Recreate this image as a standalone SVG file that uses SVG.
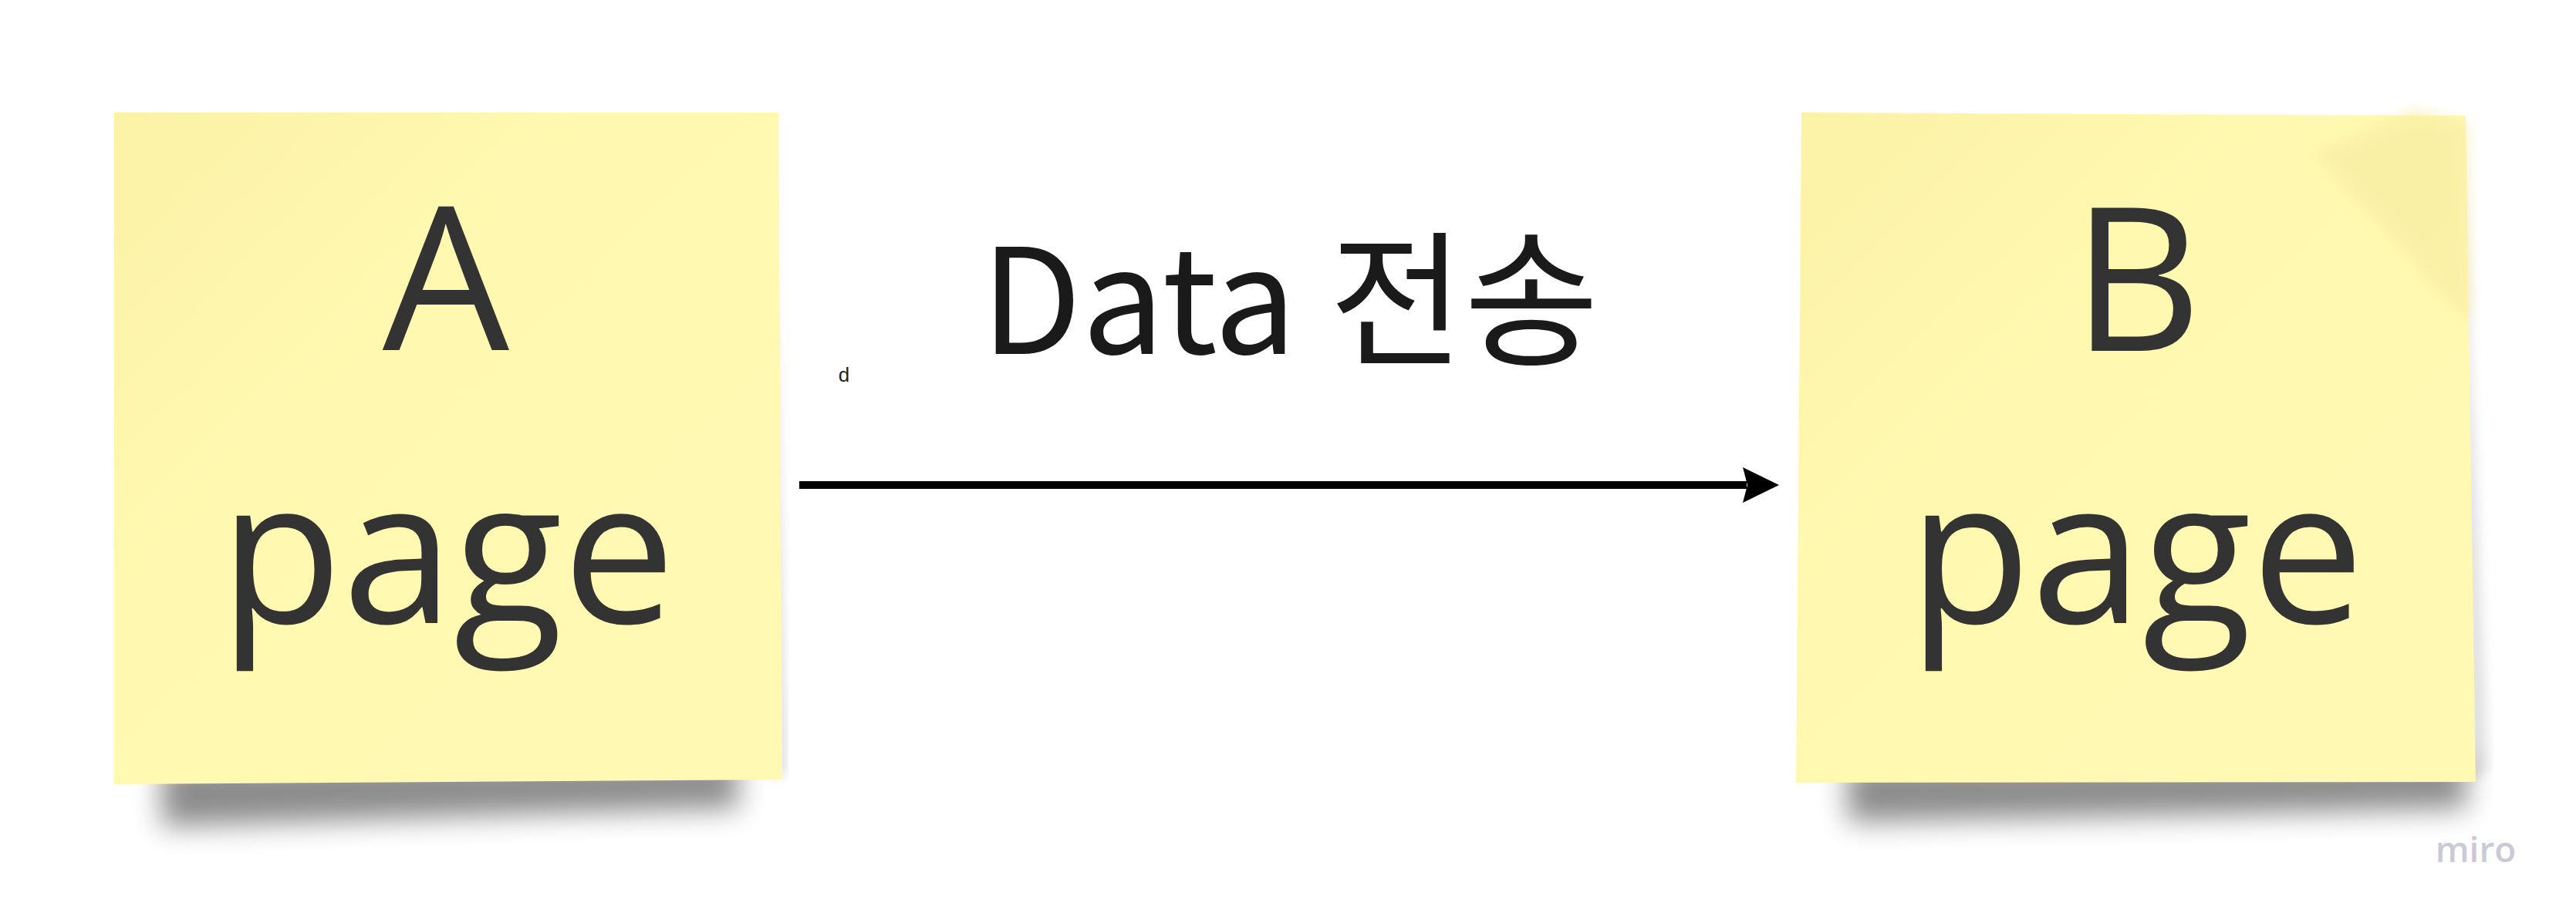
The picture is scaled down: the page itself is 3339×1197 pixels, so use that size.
<svg xmlns="http://www.w3.org/2000/svg" width="3339" height="1197" viewBox="0 0 3339 1197">
<style>
.note{font-family:"Open Sans","Liberation Sans",sans-serif;font-size:260px;fill:#333333;text-anchor:middle}
.lbl{font-family:"Noto Sans CJK KR","Noto Sans",sans-serif;font-size:190px;fill:#1a1a1a;text-anchor:middle}
</style>
<defs>
<filter id="blur" x="-20%" y="-50%" width="140%" height="200%"><feGaussianBlur stdDeviation="18"/></filter>
<filter id="blur2" x="-20%" y="-20%" width="140%" height="140%"><feGaussianBlur stdDeviation="8"/></filter>
<linearGradient id="paper" x1="0" y1="0" x2="1" y2="1">
<stop offset="0" stop-color="#fbf2a6"/>
<stop offset="0.35" stop-color="#fff8b0"/>
<stop offset="1" stop-color="#fff9b4"/>
</linearGradient>
</defs>
<rect width="3339" height="1197" fill="#ffffff"/>
<g id="node-a">
<path d="M210,990 L955,985 L958,1048 L700,1055 L210,1072 Z" fill="#000" opacity="0.45" filter="url(#blur)"/>
<path d="M1000,160 L1018,1000 L1008,1010 L1000,1000 Z" fill="#000" opacity="0.15" filter="url(#blur2)"/>
<polygon points="148,146 1009,146 1014,1011 148,1017" fill="url(#paper)"/>
<text class="note" x="578" y="454">A</text>
<text class="note" x="580" y="808">page</text>
</g>
<g id="node-b">
<path d="M2395,990 L3195,985 L3198,1048 L2900,1055 L2395,1066 Z" fill="#000" opacity="0.45" filter="url(#blur)"/>
<path d="M3190,160 L3225,1000 L3205,1010 L3195,1000 Z" fill="#000" opacity="0.12" filter="url(#blur2)"/>
<polygon points="2335,146 3196,150 3209,1014 2328,1015" fill="url(#paper)"/>
<polygon points="3000,200 3130,140 3200,160 3203,420" fill="#f3e89a" opacity="0.45" filter="url(#blur2)"/>
<text class="note" x="2770" y="455">B</text>
<text class="note" x="2769" y="808">page</text>
</g>
<g id="connectors">
<line x1="1036" y1="629" x2="2264" y2="629" stroke="#000" stroke-width="10"/>
<polygon points="2259,606 2306,629 2259,652 2265,629" fill="#000"/>
<text class="lbl" x="1672" y="459">Data 전송</text>
<text x="1094" y="495" font-family="Liberation Sans, sans-serif" font-size="26" fill="#222" text-anchor="middle">d</text>
</g>
<text x="3209" y="1118" font-family="Open Sans, sans-serif" font-size="46" font-weight="600" fill="#cac9d8" text-anchor="middle">miro</text>
</svg>
